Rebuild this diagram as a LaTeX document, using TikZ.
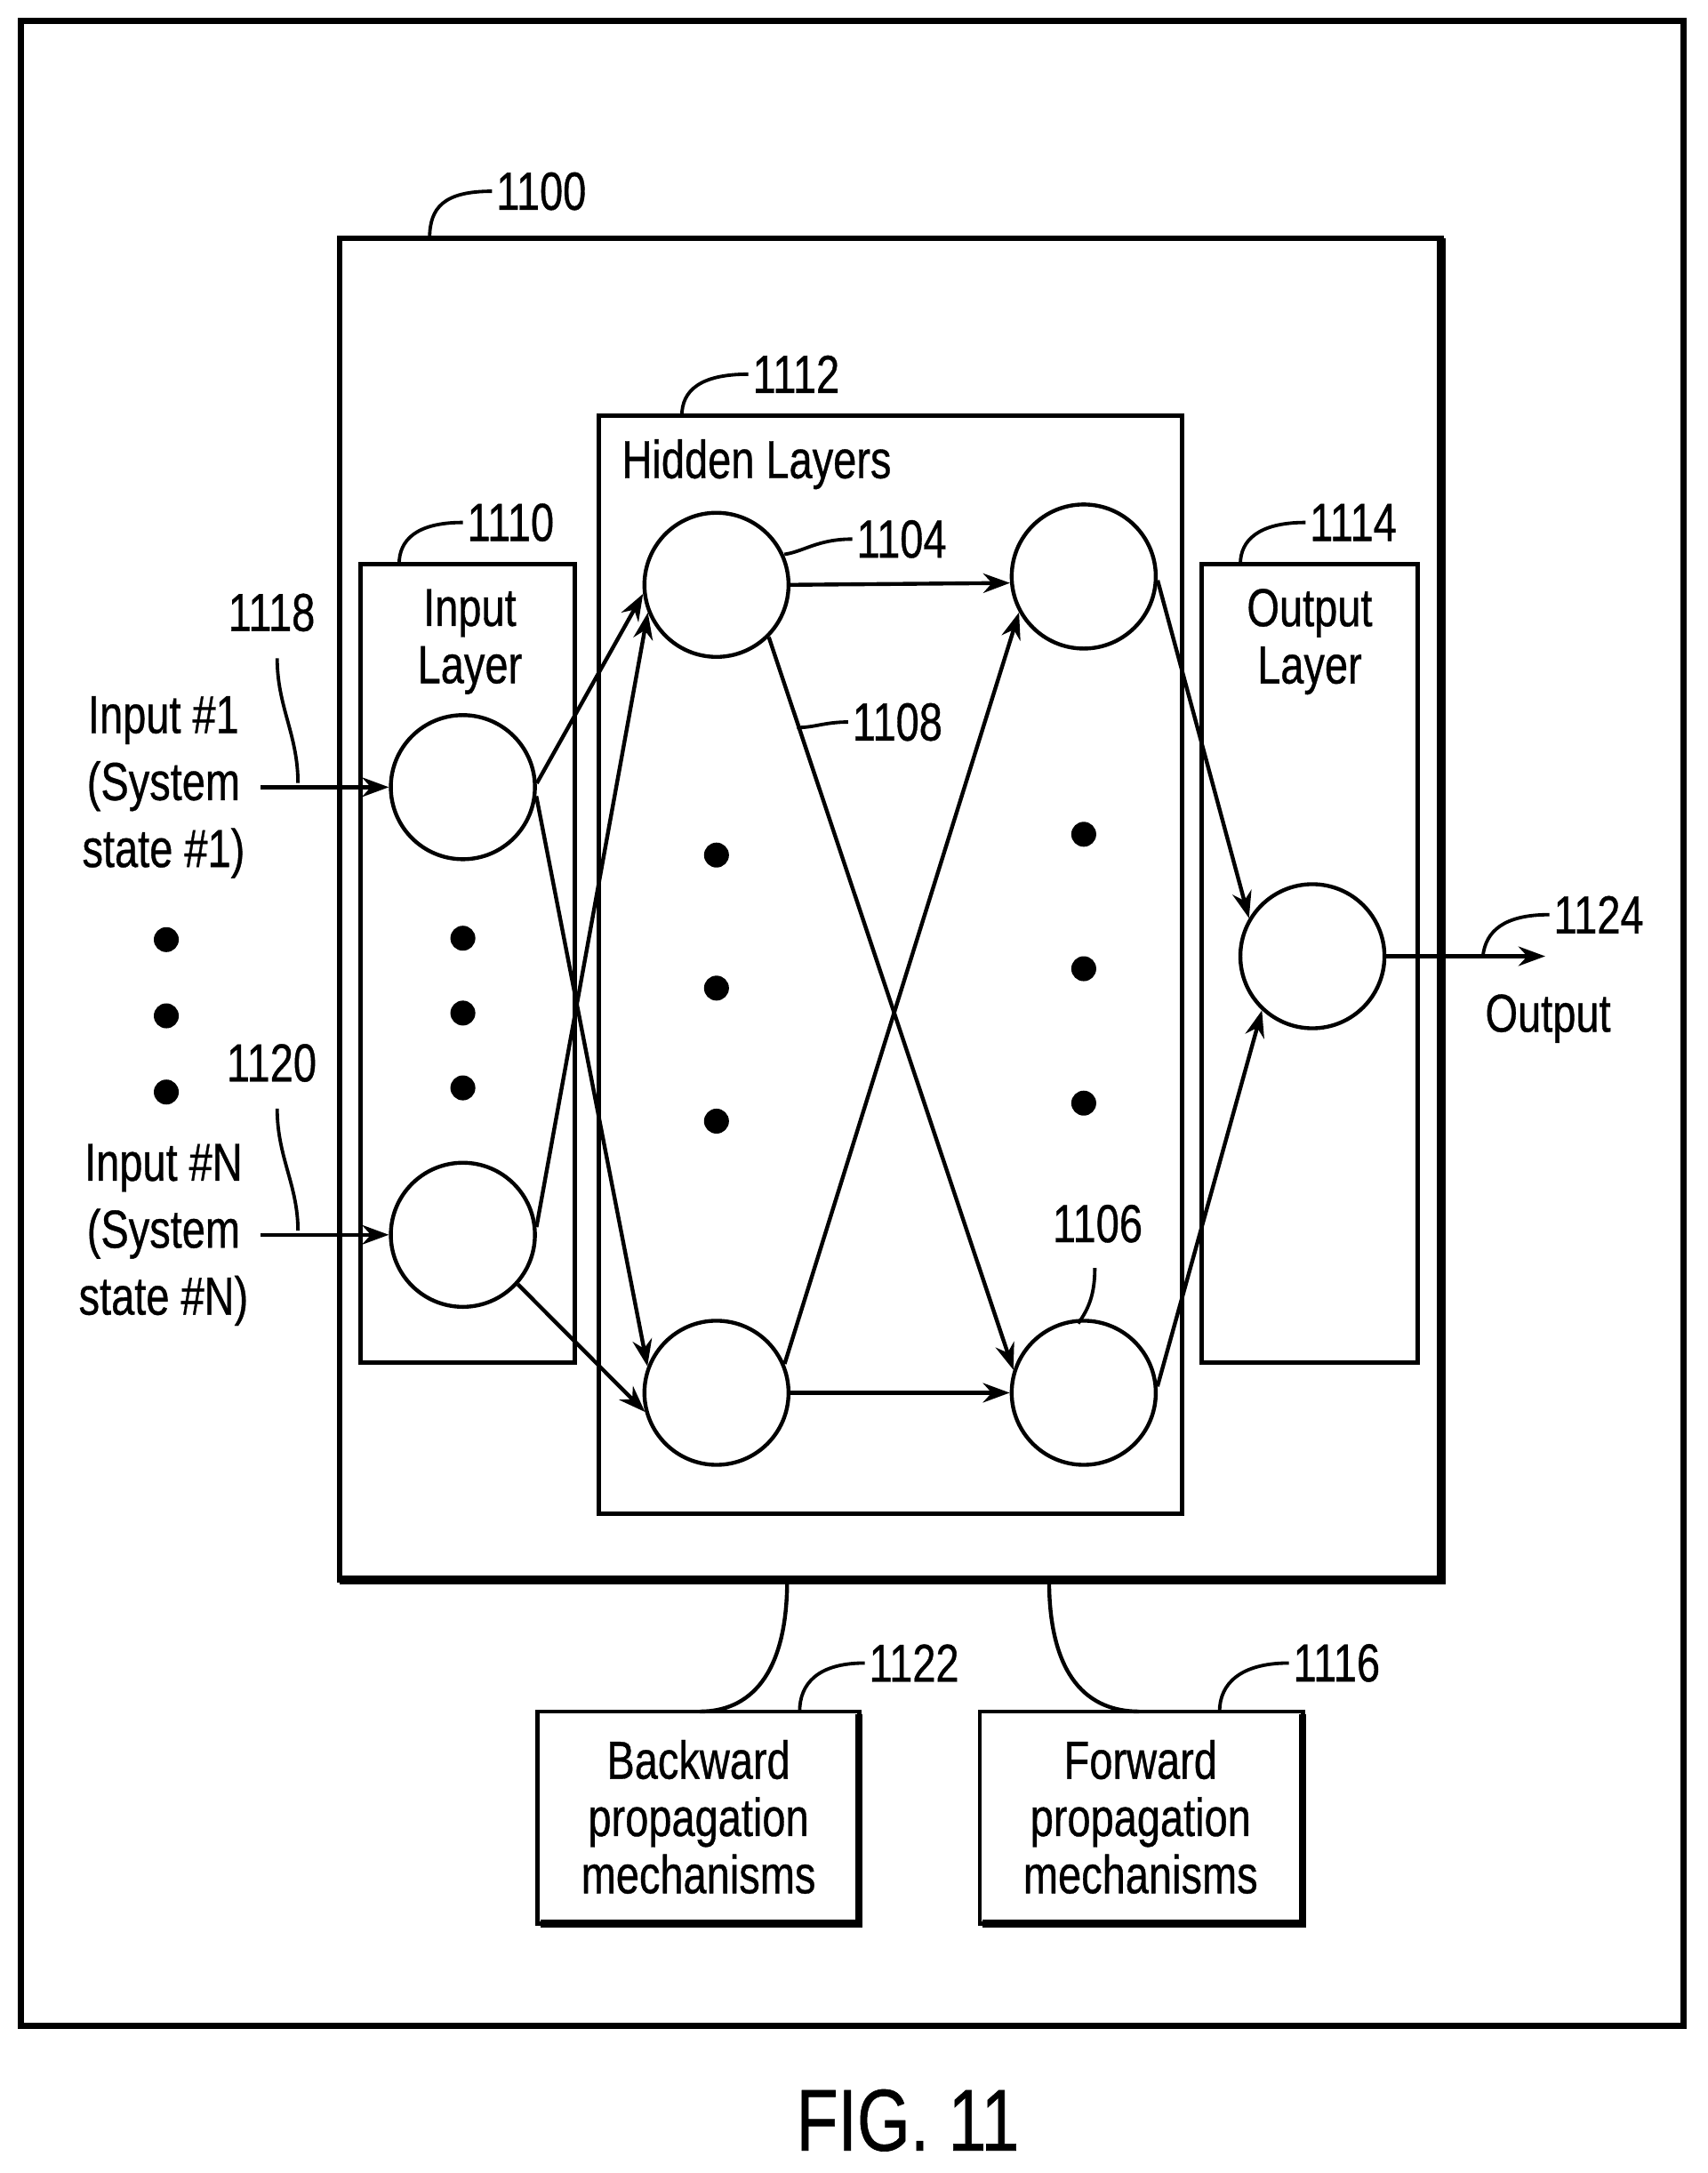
\documentclass[tikz,border=0pt]{standalone}
\usepackage{fontspec}
\setmainfont[FakeStretch=0.78,FakeBold=0.6]{Liberation Sans}
\usetikzlibrary{arrows.meta}
\begin{document}
\begin{tikzpicture}[x=0.02cm,y=-0.02cm,line width=1.6pt,
  box/.style={draw,line width=1.8pt},
  neuron/.style={circle,draw,line width=1.6pt,minimum size=2.08cm,inner sep=0},
  dot/.style={circle,fill,minimum size=0.36cm,inner sep=0},
  lbl/.style={font=\fontsize{22}{23.5}\selectfont,inner sep=1pt},
  lblw/.style={font=\fontsize{22}{27.5}\selectfont,inner sep=1pt},
  arr/.style={-{Stealth[length=11pt,width=8pt]}},
  lead/.style={line width=1.4pt}]
\useasboundingbox (0,0) rectangle (1232,1568);
% frames
\draw[line width=2.6pt] (15,15) rectangle (1215,1462);
\draw[box,line width=2.4pt] (245,172) rectangle (1040,1140);
\draw[line width=3.5pt] (1040,172)--(1040,1140)--(245,1140);
\draw[box] (432,300) rectangle (853,1092);
\draw[box] (260,407) rectangle (415,983);
\draw[box] (867,407) rectangle (1023,983);
\draw[box] (388,1235) rectangle (620,1388);
\draw[line width=3pt] (620,1237)--(620,1388)--(390,1388);
\draw[box] (707,1235) rectangle (940,1388);
\draw[line width=3pt] (940,1237)--(940,1388)--(709,1388);
% neurons
\node[neuron] (i1) at (334,568) {};
\node[neuron] (iN) at (334,891) {};
\node[neuron] (h1) at (517,422) {};
\node[neuron] (h2) at (517,1005) {};
\node[neuron] (h3) at (782,416) {};
\node[neuron] (h4) at (782,1005) {};
\node[neuron] (o) at (947,690) {};
% dots
\foreach \n/\x/\y in {a1/120/678,a2/120/733,a3/120/788,b1/334/677,b2/334/731,b3/334/785,c1/517/617,c2/517/713,c3/517/809,d1/782/602,d2/782/699,d3/782/796}
  \node[dot] (\n) at (\x,\y) {};
% texts
\node[lblw,align=center] (t1) at (118,568) {Input \#1\\(System\\state \#1)};
\node[lblw,align=center] (tN) at (118,891) {Input \#N\\(System\\state \#N)};
\node[lbl,align=center] (til) at (339,463) {Input\\Layer};
\node[lbl,align=center] (tol) at (945,463) {Output\\Layer};
\node[lbl] (thl) at (546,335) {Hidden Layers};
\node[lbl] (tout) at (1117,735) {Output};
\node[lbl,align=center] (tb) at (504,1311) {Backward\\propagation\\mechanisms};
\node[lbl,align=center] (tf) at (823,1311) {Forward\\propagation\\mechanisms};
\node[font=\fontsize{36}{40}\selectfont] (fig) at (655,1530) {FIG. 11};
% connections
\coordinate (s1) at (188,568); \coordinate (sN) at (188,891);
\draw[arr] (s1) -- (i1);
\draw[arr] (sN) -- (iN);
\draw[arr] (i1.3) -- (h1.187);
\draw[arr] (i1.-7) -- (h2.159);
\draw[arr] (iN.6) -- (h1.202);
\draw[arr] (iN.-42) -- (h2.195);
\draw[arr] (h1.0) -- (h3.185);
\draw[arr] (h1.-45) -- (h4.162);
\draw[arr] (h2.23) -- (h3.209);
\draw[arr] (h2.0) -- (h4.180);
\draw[arr] (h3.-3) -- (o.149);
\draw[arr] (h4.5) -- (o.227);
\coordinate (oe) at (1115,690);
\draw[arr] (o) -- (oe);
% bottom curves
\draw (568,1140) .. controls (568,1210) and (540,1235) .. (505,1235);
\draw (757,1140) .. controls (757,1210) and (785,1235) .. (822,1235);
% reference numerals
\node[lbl,anchor=west] (n1100) at (355,138) {1100};
\draw[lead] (n1100.west) .. controls (320,138) and (310,150) .. (310,172);
\node[lbl,anchor=west] (n1112) at (540,270) {1112};
\draw[lead] (n1112.west) .. controls (505,270) and (492,282) .. (492,300);
\node[lbl,anchor=west] (n1110) at (334,377) {1110};
\draw[lead] (n1110.west) .. controls (300,377) and (288,390) .. (288,407);
\node[lbl,anchor=west] (n1114) at (942,377) {1114};
\draw[lead] (n1114.west) .. controls (908,377) and (895,390) .. (895,407);
\node[lbl,anchor=west] (n1104) at (615,389) {1104};
\draw[lead] (n1104.west) .. controls (590,389) and (580,398) .. (566,400);
\node[lbl,anchor=west] (n1108) at (612,521) {1108};
\draw[lead] (n1108.west) .. controls (595,521) and (588,525) .. (575,525);
\node[lbl] (n1106) at (792,883) {1106};
\draw[lead] (790,915) .. controls (790,935) and (785,945) .. (778,955);
\node[lbl,anchor=west] (n1124) at (1118,660) {1124};
\draw[lead] (n1124.west) .. controls (1085,660) and (1072,672) .. (1070,690);
\node[lbl,anchor=west] (n1122) at (624,1200) {1122};
\draw[lead] (n1122.west) .. controls (590,1200) and (577,1215) .. (577,1235);
\node[lbl,anchor=west] (n1116) at (930,1200) {1116};
\draw[lead] (n1116.west) .. controls (895,1200) and (880,1215) .. (880,1235);
\node[lbl] (n1118) at (196,442) {1118};
\draw[lead] (200,475) .. controls (200,510) and (215,530) .. (215,565);
\node[lbl] (n1120) at (196,767) {1120};
\draw[lead] (200,800) .. controls (200,835) and (215,855) .. (215,888);
\end{tikzpicture}
\end{document}
